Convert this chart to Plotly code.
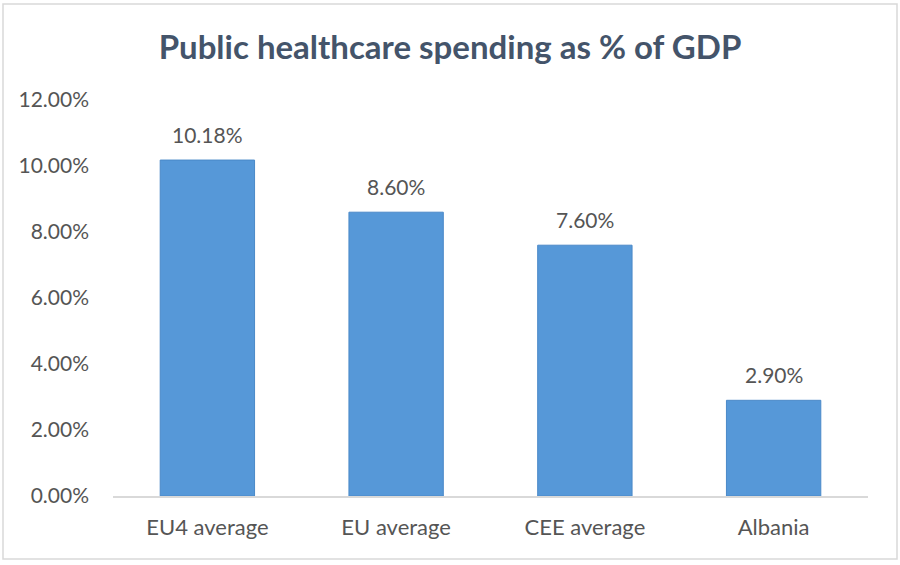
import plotly.graph_objects as go

categories = ["EU4 average", "EU average", "CEE average", "Albania"]
values = [10.18, 8.60, 7.60, 2.90]
tick_vals = [0, 2, 4, 6, 8, 10, 12]
tick_text = ["0.00%", "2.00%", "4.00%", "6.00%", "8.00%", "10.00%", "12.00%"]

font_family = "Lato, Open Sans, sans-serif"
text_color = "#555555"

fig = go.Figure(go.Bar(
    x=categories,
    y=values,
    width=0.5,
    marker=dict(color="#5698D8", line=dict(color="#4A89C8", width=1)),
))

for c, v in zip(categories, values):
    fig.add_annotation(
        x=c, y=v, text=f"{v:.2f}%", showarrow=False,
        yanchor="bottom", yshift=11,
        font=dict(size=21, color=text_color, family=font_family),
    )

L, R, T, B = 113, 32, 100, 69
PW, PH = 900 - L - R, 565 - T - B

fig.update_layout(
    width=900, height=565,
    paper_bgcolor="white", plot_bgcolor="white",
    margin=dict(l=L, r=R, t=T, b=B),
    title=dict(text="<b>Public healthcare spending as % of GDP</b>",
               x=0.5, xanchor="center", y=1 - 47 / 565, yanchor="middle",
               font=dict(size=33, color="#44546A", family=font_family)),
    showlegend=False,
    shapes=[dict(type="rect", xref="paper", yref="paper",
                 x0=(3 - L) / PW, x1=(897 - L) / PW,
                 y0=-(559 - (565 - B)) / PH, y1=((565 - B) - 4) / PH,
                 line=dict(color="#D9D9D9", width=1.5), fillcolor="rgba(0,0,0,0)",
                 layer="below")],
)
fig.update_xaxes(
    showgrid=False, showline=True, linecolor="#D9D9D9", linewidth=1.5,
    ticks="", tickfont=dict(size=22, color=text_color, family=font_family),
    ticklabelstandoff=11,
)
fig.update_yaxes(
    range=[0, 12], tickvals=tick_vals, ticktext=tick_text,
    showgrid=False, showline=False, zeroline=False, ticks="",
    tickfont=dict(size=21, color=text_color, family=font_family),
    ticklabelstandoff=23,
)

fig.write_html("out.html", config={"displayModeBar": False},
               post_script="document.body.style.margin='0';")
